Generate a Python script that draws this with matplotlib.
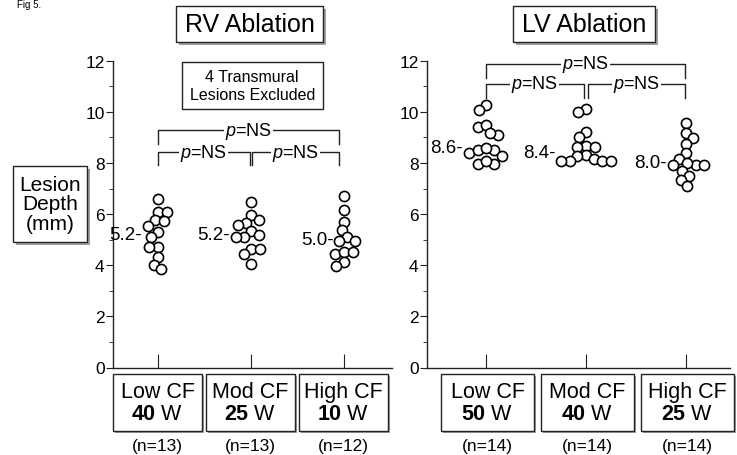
import numpy as np
import matplotlib
matplotlib.use("Agg")
import matplotlib.pyplot as plt
from matplotlib.patches import Rectangle

plt.rcParams['font.family'] = ['Liberation Sans', 'DejaVu Sans']
plt.rcParams['mathtext.fontset'] = 'custom'
plt.rcParams['mathtext.rm'] = 'Liberation Sans'
plt.rcParams['mathtext.it'] = 'Liberation Sans:italic'
plt.rcParams['mathtext.bf'] = 'Liberation Sans:bold'

# lesion depth (mm) per ablation group
rv_low = [6.59, 6.07, 6.07, 5.75, 5.72, 5.53, 5.29, 5.10, 4.70, 4.70, 4.31, 4.01, 3.85]
rv_mod = [6.49, 5.95, 5.78, 5.66, 5.56, 5.33, 5.10, 5.10, 5.17, 4.64, 4.64, 4.45, 4.06]
rv_high = [6.70, 6.15, 5.70, 5.37, 5.11, 4.96, 4.96, 4.44, 4.51, 4.51, 4.14, 3.98]
lv_low = [10.27, 10.08, 9.40, 9.49, 9.10, 9.18, 8.38, 8.49, 8.49, 8.58, 8.29, 7.96, 7.96, 8.09]
lv_mod = [10.12, 9.99, 9.20, 9.01, 8.68, 8.62, 8.64, 8.32, 8.29, 8.16, 8.08, 8.08, 8.08, 8.08]
lv_high = [9.57, 9.18, 8.97, 8.75, 8.38, 8.16, 7.93, 7.93, 7.93, 7.99, 7.70, 7.48, 7.35, 7.09]

rv_means = [5.2, 5.2, 5.0]
lv_means = [8.6, 8.4, 8.0]
rv_groups = ["Low CF", "Mod CF", "High CF"]
lv_groups = ["Low CF", "Mod CF", "High CF"]
rv_watts = [40, 25, 10]
lv_watts = [50, 40, 25]

W, H = 737, 456
fig = plt.figure(figsize=(W / 100, H / 100), dpi=100)
fig.patch.set_facecolor('white')

ax_rv = fig.add_axes([113 / W, 87.5 / H, 279 / W, 306.8 / H])
ax_lv = fig.add_axes([427 / W, 87.5 / H, 303 / W, 306.8 / H])
ax_rv.set_xlim(0.516, 3.516)
ax_lv.set_xlim(0.41, 3.44)

LINE = '#222222'
DIAM = 10.0  # marker diameter in px


def swarm(vals, ppu_y, d):
    # simple beeswarm: each point goes to the nearest free x slot
    ys = np.asarray(vals) * ppu_y
    xs = np.zeros(len(ys))
    placed = []
    for n, i in enumerate(np.argsort(-ys)):
        cands = [0.0]
        for j in placed:
            dy = ys[i] - ys[j]
            if abs(dy) < d:
                dx = np.sqrt(d * d - dy * dy)
                cands += [xs[j] - dx, xs[j] + dx]
        ok = [c for c in cands
              if all((c - xs[j]) ** 2 + (ys[i] - ys[j]) ** 2 >= d * d - 1e-6 for j in placed)]
        side = 1 if n % 2 else -1
        xs[i] = min(ok, key=lambda c: (round(abs(c), 1), side * c))
        placed.append(i)
    return xs


def fig_box(x0, y0, x1, y1, shadow=3):
    sh = Rectangle(((x0 + shadow) / W, 1 - (y1 + shadow) / H), (x1 - x0) / W, (y1 - y0) / H,
                   transform=fig.transFigure, fc='#a0a0a0', ec='none')
    bx = Rectangle((x0 / W, 1 - y1 / H), (x1 - x0) / W, (y1 - y0) / H,
                   transform=fig.transFigure, fc='white', ec=LINE, lw=1.0)
    fig.add_artist(sh)
    fig.add_artist(bx)


def bracket(ax, x1, x2, ytop, ybot, txt):
    ax.plot([x1, x1, x2, x2], [ybot, ytop, ytop, ybot], color=LINE, lw=1.0, clip_on=False)
    ax.text((x1 + x2) / 2, ytop, txt, ha='center', va='center', fontsize=13,
            bbox=dict(fc='white', ec='none', pad=0.6), clip_on=False)


def panel(ax, data, means, groups, watts, ns, box_lo, box_hi):
    ax.set_ylim(0, 12)
    for s in ['top', 'right']:
        ax.spines[s].set_visible(False)
    for s in ['left', 'bottom']:
        ax.spines[s].set_color(LINE)
        ax.spines[s].set_linewidth(1.0)
    ax.set_yticks(range(0, 13, 2))
    ax.set_yticks(range(1, 12, 2), minor=True)
    ax.tick_params(axis='y', which='major', direction='out', length=5, pad=1,
                   labelsize=12.5, color=LINE)
    ax.tick_params(axis='y', which='minor', direction='out', length=3, color=LINE)
    ax.set_xticks([1, 2, 3])
    ax.tick_params(axis='x', direction='in', length=10, labelbottom=False, color=LINE)

    x0, x1 = ax.get_xlim()
    ppu_x = ax.get_position().width * W / (x1 - x0)
    ppu_y = ax.get_position().height * H / 12
    for k, vals in enumerate(data):
        offs = swarm(vals, ppu_y, DIAM * 0.88)
        ax.plot(k + 1 + offs / ppu_x, vals, 'o', ms=7.3, mfc='white', mec='black',
                mew=1.2, clip_on=False, zorder=3)
        vals_a = np.asarray(vals)
        near = np.abs(vals_a - means[k]) < 0.4
        left = (offs[near].min() if near.any() else offs.min()) - DIAM / 2 - 1
        ax.text(k + 1 + left / ppu_x, means[k], f"{means[k]:.1f}-", ha='right', va='center',
                fontsize=13.5)

    # category boxes under the axis
    for k in range(3):
        bx0 = ax.transData.transform((k + 1 + box_lo, 0))[0]
        bx1 = ax.transData.transform((k + 1 + box_hi, 0))[0]
        fig_box(bx0, 375, bx1, 431.7, shadow=2)
        cx = (bx0 + bx1) / 2
        fig.text(cx / W, 1 - 392.5 / H, groups[k], ha='center', va='center', fontsize=15.5)
        fig.text(cx / W, 1 - 415 / H, r"$\mathbf{%d}$ W" % watts[k], ha='center',
                 va='center', fontsize=15.5)
        fig.text(cx / W, 1 - 446.7 / H, f"(n={ns[k]})", ha='center', va='center',
                 fontsize=12.5)


rv_data = [rv_low, rv_mod, rv_high]
lv_data = [lv_low, lv_mod, lv_high]
panel(ax_rv, rv_data, rv_means, rv_groups, rv_watts, [len(v) for v in rv_data], -0.48, 0.47)
panel(ax_lv, lv_data, lv_means, lv_groups, lv_watts, [len(v) for v in lv_data], -0.45, 0.48)

# significance brackets
bracket(ax_rv, 1, 2.95, 9.27, 8.75, r"$p$=NS")
bracket(ax_rv, 1, 1.985, 8.42, 7.94, r"$p$=NS")
bracket(ax_rv, 2.015, 2.95, 8.42, 7.94, r"$p$=NS")
bracket(ax_lv, 1, 2.99, 11.88, 11.32, r"$p$=NS")
bracket(ax_lv, 1, 1.975, 11.1, 10.54, r"$p$=NS")
bracket(ax_lv, 2.02, 2.99, 11.1, 10.54, r"$p$=NS")

# panel titles
fig_box(175.7, 7.3, 323.3, 43.3)
fig.text(249.5 / W, 1 - 25.3 / H, "RV Ablation", ha='center', va='center', fontsize=18)
fig_box(512.7, 7.3, 655, 43.3)
fig.text(583.8 / W, 1 - 25.3 / H, "LV Ablation", ha='center', va='center', fontsize=18)

# note box
fig_box(181.7, 63.3, 322.7, 110, shadow=0)
fig.text(252.2 / W, 1 - 86.7 / H, "4 Transmural\nLesions Excluded", ha='center',
         va='center', fontsize=11.5, linespacing=1.25)

# y axis label box
fig_box(13, 167, 87, 243)
fig.text(50 / W, 1 - 205 / H, "Lesion\nDepth\n(mm)", ha='center', va='center',
         fontsize=15, linespacing=1.05)

fig.text(17 / W, 1 - 0.5 / H, "Fig 5.", ha='left', va='top', fontsize=7)

fig.savefig("out.png", dpi=100, facecolor='white')
